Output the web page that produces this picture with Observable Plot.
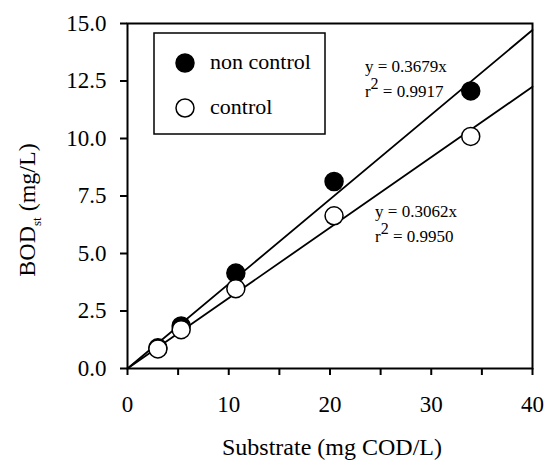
<!DOCTYPE html>
<html><head><meta charset="utf-8">
<script src="https://cdn.jsdelivr.net/npm/d3@7"></script>
<script src="https://cdn.jsdelivr.net/npm/@observablehq/plot@0.6"></script>
<style>body{margin:0;background:#fff}</style>
</head><body><div id="chart"></div>
<script>
// ---- data ----
const substrate = [3.0, 5.3, 10.7, 20.4, 33.9];
const bodNonControl = [0.9, 1.85, 4.15, 8.13, 12.07];
const bodControl = [0.85, 1.69, 3.47, 6.64, 10.09];
const seriesNames = ["non control", "control"];
const slopes = [0.3679, 0.3062];
const r2Values = ["0.9917", "0.9950"];
const xTicks = [0, 5, 10, 15, 20, 25, 30, 35, 40];
const xTickLabels = ["0", "", "10", "", "20", "", "30", "", "40"];
const yTicks = [0, 2.5, 5, 7.5, 10, 12.5, 15];
const yTickLabels = ["0.0", "2.5", "5.0", "7.5", "10.0", "12.5", "15.0"];

const nonData = substrate.map((x, i) => ({x, y: bodNonControl[i]}));
const ctlData = substrate.map((x, i) => ({x, y: bodControl[i]}));
const lineX = [0, 40];

const FONT = "'Liberation Serif', 'Times New Roman', serif";

const chart = Plot.plot({
  width: 554, height: 460,
  marginLeft: 127, marginRight: 22, marginTop: 23, marginBottom: 92,
  style: {fontFamily: FONT, background: "white", color: "black"},
  x: {domain: [0, 40]},
  y: {domain: [0, 15]},
  marks: [
    Plot.axisX({ticks: xTicks, tickFormat: d => xTickLabels[xTicks.indexOf(d)], tickSize: 7, tickPadding: 20, strokeWidth: 2, fontSize: 23, label: null}),
    Plot.axisY({ticks: yTicks, tickFormat: d => yTickLabels[yTicks.indexOf(d)], tickSize: 7, tickPadding: 14, strokeWidth: 2, fontSize: 23, label: null}),
    Plot.line(lineX, {x: d => d, y: d => slopes[0] * d, stroke: "black", strokeWidth: 1.8}),
    Plot.line(lineX, {x: d => d, y: d => slopes[1] * d, stroke: "black", strokeWidth: 1.8}),
    Plot.dot(nonData, {x: "x", y: "y", r: 9, fill: "black", stroke: "black", strokeWidth: 1.5}),
    Plot.dot(ctlData, {x: "x", y: "y", r: 9, fill: "white", stroke: "black", strokeWidth: 1.5}),
    Plot.frame({stroke: "black", strokeWidth: 2})
  ]
});
document.getElementById("chart").appendChild(chart);

const svg = d3.select(chart);
const sx = chart.scale("x"), sy = chart.scale("y");

// x axis title
svg.append("text").attr("x", 332).attr("y", 455)
  .attr("text-anchor", "middle").attr("font-size", 24).attr("font-family", FONT)
  .text("Substrate (mg COD/L)");

// y axis title with subscript
const yl = svg.append("text").attr("transform", "translate(35,210) rotate(-90)")
  .attr("text-anchor", "middle").attr("font-size", 24).attr("font-family", FONT);
yl.append("tspan").text("BOD");
yl.append("tspan").attr("font-size", 13).attr("dy", 6).text("st");
yl.append("tspan").attr("dy", -6).text(" (mg/L)");

// legend
const lg = svg.append("g");
lg.append("rect").attr("x", 154).attr("y", 33).attr("width", 171).attr("height", 101)
  .attr("fill", "white").attr("stroke", "black").attr("stroke-width", 1.5);
[["black", 63], ["white", 108]].forEach(([fill, cy], i) => {
  lg.append("circle").attr("cx", 185).attr("cy", cy).attr("r", 9)
    .attr("fill", fill).attr("stroke", "black").attr("stroke-width", 1.5);
  lg.append("text").attr("x", 210).attr("y", cy + 6).attr("font-size", 22)
    .attr("text-anchor", "start").attr("font-family", FONT).text(seriesNames[i]);
});

// regression annotations
const ann = [[23.5, 13.1], [24.5, 6.8]];
ann.forEach(([ax, ay], i) => {
  const px = sx.apply(ax), py = sy.apply(ay);
  svg.append("text").attr("x", px).attr("y", py + 5).attr("font-size", 17)
    .attr("text-anchor", "start").attr("font-family", FONT).text(`y = ${slopes[i].toFixed(4)}x`);
  const t = svg.append("text").attr("x", px).attr("y", py + 30).attr("font-size", 17)
    .attr("text-anchor", "start").attr("font-family", FONT);
  t.append("tspan").text("r");
  t.append("tspan").attr("dy", -8).attr("font-size", 16).text("2");
  t.append("tspan").attr("dy", 8).text(` = ${r2Values[i]}`);
});
</script></body></html>
